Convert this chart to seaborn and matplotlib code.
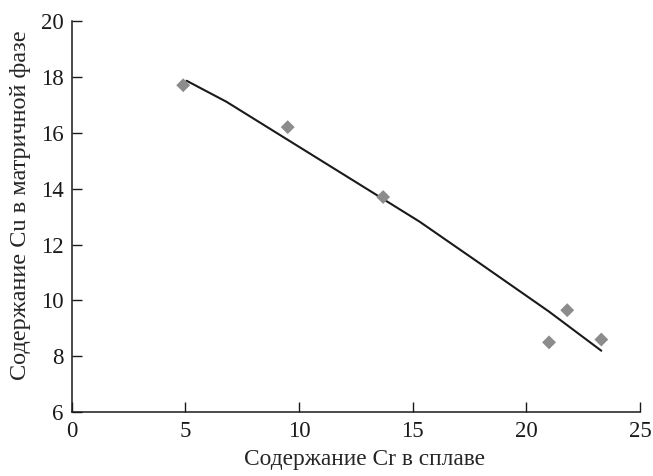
import matplotlib
matplotlib.use('Agg')
import matplotlib.pyplot as plt
import seaborn as sns

# measured points
cr_alloy = [4.9, 9.5, 13.7, 21.0, 21.8, 23.3]
cu_matrix = [17.7, 16.2, 13.7, 8.5, 9.65, 8.6]

# trend line as drawn
fit_x = [5.05, 6.8, 11.0, 15.3, 18.0, 21.0, 23.3]
fit_y = [17.86, 17.11, 14.99, 12.82, 11.3, 9.6, 8.2]

sns.set_style('ticks')
plt.rcParams['font.family'] = ['Liberation Serif', 'DejaVu Serif']

fig = plt.figure(figsize=(6.53, 4.76), dpi=100)
ax = fig.add_axes([0.110, 0.134, 0.870, 0.822])

sns.lineplot(x=fit_x, y=fit_y, ax=ax, color='#1a1a1a', linewidth=1.5)
sns.scatterplot(x=cr_alloy, y=cu_matrix, ax=ax, marker='D', s=50,
                color='#8c8c8c', edgecolor='none', zorder=3)

ax.set_xlim(0, 25)
ax.set_ylim(6, 20)
ax.set_xticks([0, 5, 10, 15, 20, 25])
ax.set_yticks([6, 8, 10, 12, 14, 16, 18, 20])
ax.tick_params(direction='in', length=7, width=1, labelsize=16.5, colors='#1a1a1a')
ax.tick_params(axis='x', pad=6)
ax.tick_params(axis='y', pad=6)
sns.despine(ax=ax)
for s in ['left', 'bottom']:
    ax.spines[s].set_color('#1a1a1a')
    ax.spines[s].set_linewidth(1.1)

ax.set_xlabel('Содержание Cr в сплаве', fontsize=16.8)
ax.set_ylabel('Содержание Cu в матричной фазе', fontsize=17.5)
ax.xaxis.set_label_coords(0.516, -0.095)
ax.yaxis.set_label_coords(-0.072, 0.53)

fig.savefig('out.png', dpi=100)
